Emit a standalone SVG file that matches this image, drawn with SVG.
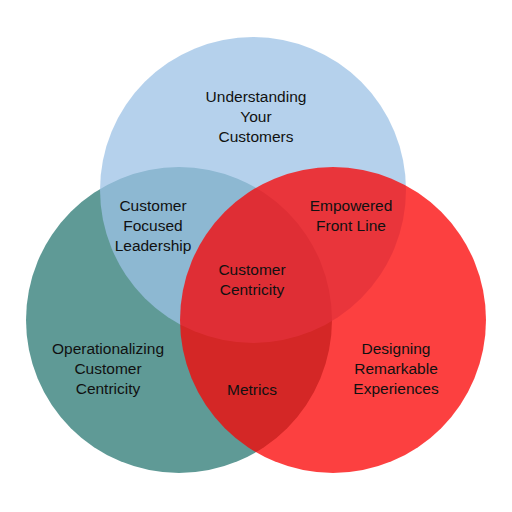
<svg xmlns="http://www.w3.org/2000/svg" width="512" height="512" viewBox="0 0 512 512">
  <style>
    .lbl { font-family: "Liberation Sans", Arial, sans-serif; font-size: 15.5px; fill: #111111; text-anchor: middle; }
  </style>
  <rect width="512" height="512" fill="#ffffff"/>
  <g id="circle-operationalizing">
    <circle cx="179" cy="320" r="153" fill="#5f9a96"/>
  </g>
  <g id="circle-understanding">
    <circle cx="253" cy="190" r="153" fill="#9cc2e6" fill-opacity="0.75"/>
  </g>
  <g id="circle-designing">
    <circle cx="333" cy="320" r="153" fill="#fb0000" fill-opacity="0.75"/>
  </g>
  <g id="connectors"></g>
  <g id="labels">
    <text class="lbl" x="256" y="102">Understanding</text>
    <text class="lbl" x="256" y="122">Your</text>
    <text class="lbl" x="256" y="142">Customers</text>
    <text class="lbl" x="153" y="211">Customer</text>
    <text class="lbl" x="153" y="231">Focused</text>
    <text class="lbl" x="153" y="251">Leadership</text>
    <text class="lbl" x="351" y="211">Empowered</text>
    <text class="lbl" x="351" y="231">Front Line</text>
    <text class="lbl" x="252" y="275">Customer</text>
    <text class="lbl" x="252" y="295">Centricity</text>
    <text class="lbl" x="108" y="354">Operationalizing</text>
    <text class="lbl" x="108" y="374">Customer</text>
    <text class="lbl" x="108" y="394">Centricity</text>
    <text class="lbl" x="252" y="395">Metrics</text>
    <text class="lbl" x="396" y="354">Designing</text>
    <text class="lbl" x="396" y="374">Remarkable</text>
    <text class="lbl" x="396" y="394">Experiences</text>
  </g>
</svg>
